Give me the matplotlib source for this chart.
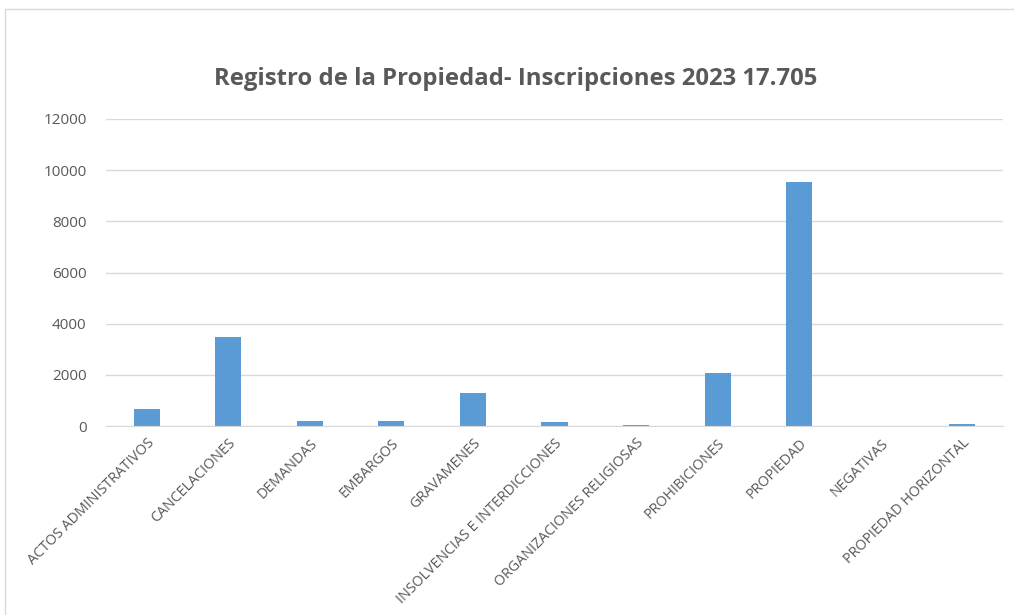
import matplotlib.pyplot as plt
from matplotlib.patches import Rectangle

# data
categorias = ['ACTOS ADMINISTRATIVOS', 'CANCELACIONES', 'DEMANDAS', 'EMBARGOS',
              'GRAVAMENES', 'INSOLVENCIAS E INTERDICCIONES', 'ORGANIZACIONES RELIGIOSAS',
              'PROHIBICIONES', 'PROPIEDAD', 'NEGATIVAS', 'PROPIEDAD HORIZONTAL']
inscripciones = [660, 3460, 185, 185, 1300, 160, 25, 2090, 9550, 10, 80]
y_ticks = [0, 2000, 4000, 6000, 8000, 10000, 12000]
titulo = 'Registro de la Propiedad- Inscripciones 2023 17.705'

plt.rcParams['font.family'] = ['Open Sans', 'DejaVu Sans']
text_col = '#595959'
grid_col = '#D9D9D9'

fig = plt.figure(figsize=(10.14, 6.15), dpi=100)
ax = fig.add_axes([106 / 1014, 1 - 426 / 615, 897 / 1014, 307 / 615])

# chart area border
fig.patches.append(Rectangle((5 / 1014, -0.01), 1.02, 1 - 9 / 615 + 0.01,
                             transform=fig.transFigure, fill=False,
                             edgecolor=grid_col, linewidth=1))

x = range(len(categorias))
ax.bar(x, inscripciones, width=0.32, color='#5B9BD5', zorder=3)

ax.set_xlim(-0.5, len(categorias) - 0.5)
ax.set_ylim(0, 12000)
ax.set_yticks(y_ticks)
ax.set_yticklabels([str(v) for v in y_ticks], color=text_col, fontsize=11)
ax.yaxis.grid(True, color=grid_col, linewidth=1, zorder=0)
ax.tick_params(axis='y', length=0, pad=14)
ax.tick_params(axis='x', length=0, pad=7)
ax.set_xticks(list(x))
ax.set_xticklabels(categorias, rotation=45, ha='right', rotation_mode='anchor',
                   color=text_col, fontsize=10.3)

for s in ['top', 'right', 'left']:
    ax.spines[s].set_visible(False)
ax.spines['bottom'].set_color(grid_col)
ax.spines['bottom'].set_zorder(4)

fig.text(0.509, 1 - 79 / 615, titulo, ha='center', va='center',
         fontsize=17.2, fontweight='bold', color=text_col)

fig.savefig('out.png', dpi=100)
